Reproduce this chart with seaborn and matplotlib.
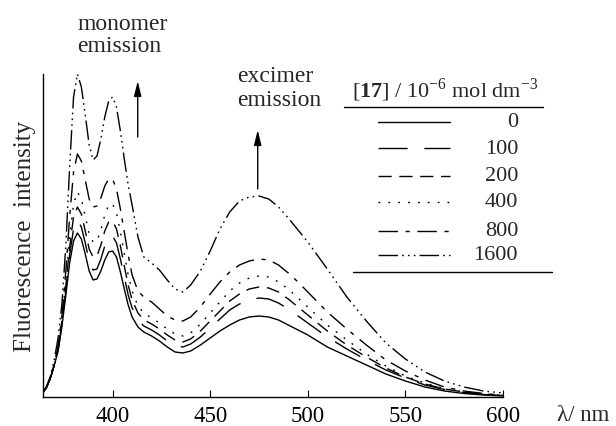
import numpy as np
import pandas as pd
import seaborn as sns
import matplotlib.pyplot as plt
from matplotlib.lines import Line2D

# wavelength grid (nm) and fluorescence intensity (a.u.)
wavelength = [364, 366, 368, 370, 372, 374, 376, 378, 380, 382, 384, 386, 388, 390,
              392, 394, 396, 398, 400, 402, 404, 406, 408, 410, 413, 416, 420, 424,
              428, 432, 436, 440, 445, 450, 455, 460, 465, 470, 475, 480, 485, 490,
              495, 500, 510, 520, 530, 540, 550, 560, 570, 580, 590, 600]

conc = ['0', '100', '200', '400', '800', '1600']

int_0 = [4, 9, 18, 31, 45, 70, 101, 134, 156, 164, 158, 143, 126, 117,
         118, 126, 137, 145, 146, 140, 125, 108, 92, 80, 70, 65, 61, 56,
         50, 45, 44, 46, 52, 59, 66, 72, 77, 80, 81, 80, 77, 72,
         67, 62, 50, 41, 32, 23, 16, 10, 6, 3.5, 2, 1]
int_100 = [4, 9, 18, 31, 46, 72, 105, 142, 168, 177, 170, 154, 136, 127,
           128, 138, 151, 160, 161, 154, 138, 120, 102, 89, 77, 71, 67, 62,
           56, 51, 50, 53, 60, 69, 78, 87, 93, 97, 99, 98, 94, 88,
           81, 74, 60, 48, 37, 27, 19, 12, 7.5, 4.5, 2.5, 1.2]
int_200 = [4, 9, 18, 31, 47, 74, 110, 150, 180, 190, 183, 166, 148, 140,
           141, 152, 166, 175, 176, 168, 151, 131, 112, 97, 84, 77, 73, 68,
           62, 57, 55, 58, 66, 76, 86, 96, 103, 108, 110, 109, 105, 98,
           90, 82, 66, 52, 40, 29, 20, 13, 8, 5, 2.8, 1.4]
int_400 = [4, 9, 18, 31, 48, 76, 115, 160, 193, 205, 198, 181, 163, 155,
           156, 167, 182, 192, 193, 184, 165, 143, 122, 106, 91, 84, 79, 74,
           68, 63, 61, 64, 73, 84, 95, 106, 114, 119, 121, 120, 115, 108,
           99, 90, 72, 57, 43, 31, 21, 14, 8.5, 5, 3, 1.5]
int_800 = [4, 9, 18, 32, 50, 80, 125, 180, 225, 243, 236, 217, 198, 190,
           191, 199, 211, 218, 218, 208, 188, 165, 142, 122, 106, 100, 95, 88,
           81, 77, 76, 80, 90, 103, 115, 125, 132, 136, 138, 137, 132, 124,
           115, 105, 85, 68, 52, 37, 26, 17, 10, 6, 3.5, 1.8]
int_1600 = [4, 10, 20, 36, 58, 92, 150, 230, 300, 323, 310, 282, 252, 237,
            241, 258, 280, 296, 300, 290, 266, 238, 212, 192, 160, 140, 134, 127,
            117, 108, 105, 112, 126, 146, 168, 185, 196, 200, 201, 198, 190, 179,
            167, 155, 128, 100, 76, 54, 38, 25, 16, 10, 6, 4]

series = [int_0, int_100, int_200, int_400, int_800, int_1600]

df = pd.DataFrame({
    'wl': np.tile(wavelength, len(conc)),
    'I': np.concatenate(series),
    'c': np.repeat(conc, len(wavelength)),
})

sns.set_style("ticks")
plt.rcParams['font.family'] = ['Liberation Serif', 'DejaVu Serif']
plt.rcParams['mathtext.fontset'] = 'custom'
plt.rcParams['mathtext.rm'] = 'Liberation Serif'
plt.rcParams['mathtext.bf'] = 'Liberation Serif:bold'
plt.rcParams['lines.scale_dashes'] = False

# dash patterns in points
dash_map = {
    '0': '',
    '100': (21, 12),
    '200': (9.5, 5.5),
    '400': (1.3, 5.8),
    '800': (14, 5.5, 3, 5.5),
    '1600': (14, 3, 1.2, 3, 1.2, 3, 1.2, 3),
}

W, H = 616, 427
fig = plt.figure(figsize=(W / 100, H / 100), dpi=100)
ax = fig.add_axes([42.7 / W, 1 - 398 / H, 460.3 / W, 323 / H])

sns.lineplot(data=df, x='wl', y='I', hue='c', style='c',
             palette=['black'] * len(conc), dashes=dash_map,
             linewidth=1.0, legend=False, ax=ax)

ax.set_xlim(364.2, 600)
ax.set_ylim(0, 323)
ax.set_xticks([400, 450, 500, 550, 600])
ax.set_yticks([])
ax.tick_params(axis='x', direction='in', length=5, width=0.8, pad=6,
               labelsize=16.5, colors='black')
sns.despine(ax=ax)
for s in ['left', 'bottom']:
    ax.spines[s].set_color('black')
    ax.spines[s].set_linewidth(1.0)
ax.set_xlabel('')
ax.set_ylabel('Fluorescence  intensity', fontsize=18, labelpad=5)
fig.text(557 / W, 1 - 416 / H, 'λ/ nm', fontsize=16.5, ha='left', va='center')


def fp(x, y):
    return (x / W, 1 - y / H)


# annotations
fig.text(*fp(77, 24), 'monomer', fontsize=17, ha='left', va='center')
fig.text(*fp(77, 47), 'emission', fontsize=17, ha='left', va='center')
fig.text(*fp(237, 77), 'excimer', fontsize=17, ha='left', va='center')
fig.text(*fp(237, 100), 'emission', fontsize=17, ha='left', va='center')
arrow = dict(arrowstyle='-|>,head_length=0.9,head_width=0.22', color='black',
             lw=1.0, mutation_scale=10, shrinkA=0, shrinkB=0)
ax.annotate('', xy=fp(137.7, 82), xytext=fp(137.7, 138),
            xycoords='figure fraction', arrowprops=arrow)
ax.annotate('', xy=fp(257.7, 131), xytext=fp(257.7, 190),
            xycoords='figure fraction', arrowprops=arrow)

# table-style legend
fig.text(*fp(445, 97), r'[$\mathbf{17}$] / 10$^{-6}$ mol dm$^{-3}$',
         fontsize=16, ha='center', va='baseline')
fig.add_artist(Line2D([344 / W, 543 / W], [1 - 108.3 / H] * 2, color='black', lw=1.0))
fig.add_artist(Line2D([353 / W, 552 / W], [1 - 272.7 / H] * 2, color='black', lw=1.0))
row_y = [122.7, 149.3, 176.7, 203, 231.7, 256]
for c, yy in zip(conc, row_y):
    ln = Line2D([378 / W, 450 / W], [1 - yy / H] * 2, color='black', lw=1.0)
    if dash_map[c]:
        ln.set_dashes(dash_map[c])
    fig.add_artist(ln)
    fig.text(518 / W, 1 - yy / H, c, fontsize=16, ha='right', va='center')

fig.savefig('out.png', dpi=100)
